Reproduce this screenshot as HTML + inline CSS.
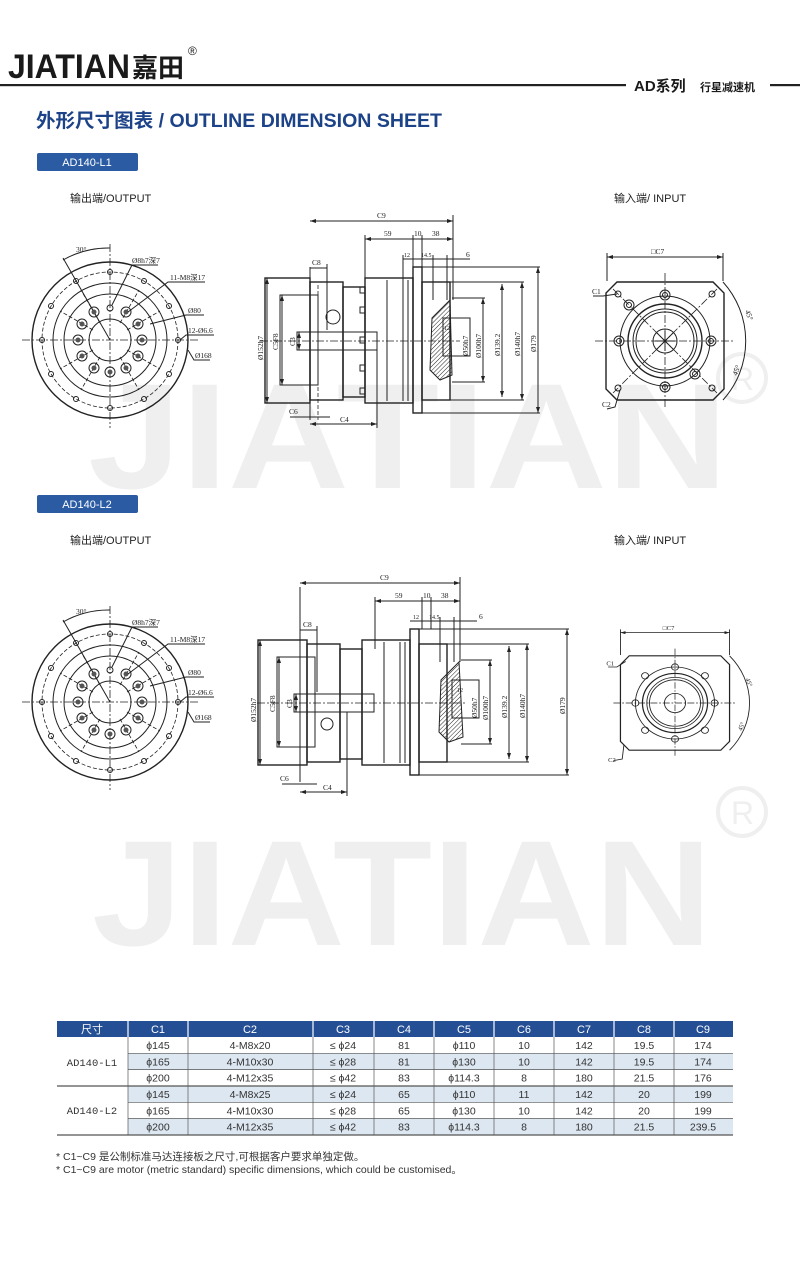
<!DOCTYPE html>
<html><head><meta charset="utf-8"><style>
body{margin:0;background:#fff}
svg{display:block}
.t{font-family:"Liberation Serif",serif;font-size:7.5px;fill:#222}
.l{stroke:#222;stroke-width:1;fill:none}
.th{stroke:#222;stroke-width:1.4;fill:none}
.d{stroke:#222;stroke-width:0.8;fill:none;stroke-dasharray:4 2}
.c{stroke:#222;stroke-width:0.8;fill:none;stroke-dasharray:8 2 2 2}
.s{font-family:"Liberation Sans","Noto Sans CJK SC",sans-serif}
</style></head><body>
<svg width="800" height="1264" viewBox="0 0 800 1264" xmlns="http://www.w3.org/2000/svg">
<defs>
<marker id="a" markerWidth="6" markerHeight="4" refX="6" refY="2" orient="auto-start-reverse"><path d="M0,0L6,2L0,4z" fill="#222"/></marker>
<pattern id="h" width="3" height="3" patternUnits="userSpaceOnUse" patternTransform="rotate(45)"><line x1="0" y1="0" x2="0" y2="3" stroke="#222" stroke-width="1"/></pattern>
</defs>
<g font-family="Liberation Sans,sans-serif" font-weight="bold" fill="#efefef">
<text x="88" y="488" font-size="150" textLength="640" lengthAdjust="spacingAndGlyphs">JIATIAN</text>
<text x="92" y="945" font-size="150" textLength="620" lengthAdjust="spacingAndGlyphs">JIATIAN</text>
</g>
<circle cx="742" cy="378" r="24" fill="none" stroke="#efefef" stroke-width="4"/><text x="731" y="390" font-size="32" fill="#efefef" font-family="Liberation Sans,sans-serif">R</text>
<circle cx="742" cy="812" r="24" fill="none" stroke="#efefef" stroke-width="4"/><text x="731" y="824" font-size="32" fill="#efefef" font-family="Liberation Sans,sans-serif">R</text>

<text x="8" y="78" class="s" font-size="34" font-weight="bold" fill="#1a1a1a" textLength="122" lengthAdjust="spacingAndGlyphs">JIATIAN</text>
<text x="132" y="77" class="s" font-size="26" font-weight="bold" fill="#1a1a1a">嘉田</text>
<text x="188" y="55" class="s" font-size="12" fill="#1a1a1a">®</text>
<rect x="0" y="84" width="626" height="2.2" fill="#222"/>
<rect x="770" y="84" width="30" height="2.2" fill="#222"/>
<text x="634" y="91" class="s" font-size="15" font-weight="bold" fill="#1a1a1a">AD系列</text>
<text x="700" y="91" class="s" font-size="11" font-weight="bold" fill="#1a1a1a">行星减速机</text>
<text x="36" y="127" class="s" font-size="19" font-weight="bold" fill="#1c4288" textLength="406" lengthAdjust="spacingAndGlyphs">外形尺寸图表 / OUTLINE DIMENSION SHEET</text>
<rect x="37" y="153" width="101" height="18" rx="2" fill="#2b5ca3"/>
<text x="87" y="166" class="s" font-size="11" fill="#fff" text-anchor="middle">AD140-L1</text>
<rect x="37" y="495" width="101" height="18" rx="2" fill="#2b5ca3"/>
<text x="87" y="508" class="s" font-size="11" fill="#fff" text-anchor="middle">AD140-L2</text>
<g class="s" font-size="11" fill="#222">
<text x="70" y="202">输出端/OUTPUT</text><text x="614" y="202">输入端/ INPUT</text>
<text x="70" y="544">输出端/OUTPUT</text><text x="614" y="544">输入端/ INPUT</text>
</g>

<g transform="translate(110,340)">
<circle r="78" class="th"/><circle r="68" class="d"/><circle r="57" class="l"/><circle r="46" class="l"/><circle r="21" class="l"/>
<line x1="-88" y1="0" x2="88" y2="0" class="c"/><line x1="0" y1="-96" x2="0" y2="88" class="c"/>
<g class="d"><line x1="-10" y1="-17" x2="-29" y2="-50"/><line x1="10" y1="-17" x2="29" y2="-50"/><line x1="-17" y1="-10" x2="-50" y2="-29"/><line x1="17" y1="-10" x2="50" y2="-29"/><line x1="-17" y1="10" x2="-50" y2="29"/><line x1="17" y1="10" x2="50" y2="29"/><line x1="-10" y1="17" x2="-29" y2="50"/><line x1="10" y1="17" x2="29" y2="50"/></g>
<line x1="0" y1="0" x2="-47" y2="-82" class="l"/>
<path d="M-47,-80 A92,92 0 0 1 0,-92" class="l"/>
<text x="-34" y="-88" class="t">30°</text>
<g class="l" stroke-width="1.3">
<circle cx="0" cy="-32" r="3"/>
<circle cx="16" cy="-28" r="5"/><circle cx="28" cy="-16" r="5"/><circle cx="32" cy="0" r="5"/><circle cx="28" cy="16" r="5"/><circle cx="16" cy="28" r="5"/><circle cx="0" cy="32" r="5"/><circle cx="-16" cy="28" r="5"/><circle cx="-28" cy="16" r="5"/><circle cx="-32" cy="0" r="5"/><circle cx="-28" cy="-16" r="5"/><circle cx="-16" cy="-28" r="5"/>
</g>
<g fill="#555"><circle cx="16" cy="-28" r="2.5"/><circle cx="28" cy="-16" r="2.5"/><circle cx="32" cy="0" r="2.5"/><circle cx="28" cy="16" r="2.5"/><circle cx="16" cy="28" r="2.5"/><circle cx="0" cy="32" r="2.5"/><circle cx="-16" cy="28" r="2.5"/><circle cx="-28" cy="16" r="2.5"/><circle cx="-32" cy="0" r="2.5"/><circle cx="-28" cy="-16" r="2.5"/><circle cx="-16" cy="-28" r="2.5"/></g>
<g class="l"><circle cx="0" cy="-68" r="2.5"/><circle cx="34" cy="-59" r="2.5"/><circle cx="59" cy="-34" r="2.5"/><circle cx="68" cy="0" r="2.5"/><circle cx="59" cy="34" r="2.5"/><circle cx="34" cy="59" r="2.5"/><circle cx="0" cy="68" r="2.5"/><circle cx="-34" cy="59" r="2.5"/><circle cx="-59" cy="34" r="2.5"/><circle cx="-68" cy="0" r="2.5"/><circle cx="-59" cy="-34" r="2.5"/><circle cx="-34" cy="-59" r="2.5"/></g>
<g class="l"><polyline points="2,-35 22,-75 48,-75"/><polyline points="18,-28 58,-58 95,-58"/><polyline points="40,-16 76,-25 94,-25"/><polyline points="70,0 76,-5 104,-5"/><polyline points="78,10 84,20 100,20"/></g>
<text x="22" y="-77" class="t">Ø8h7深7</text><text x="60" y="-60" class="t">11-M8深17</text><text x="78" y="-27" class="t">Ø80</text><text x="78" y="-7" class="t">12-Ø6.6</text><text x="85" y="18" class="t">Ø168</text>
</g>

<g transform="translate(110,702)">
<circle r="78" class="th"/><circle r="68" class="d"/><circle r="57" class="l"/><circle r="46" class="l"/><circle r="21" class="l"/>
<line x1="-88" y1="0" x2="88" y2="0" class="c"/><line x1="0" y1="-96" x2="0" y2="88" class="c"/>
<g class="d"><line x1="-10" y1="-17" x2="-29" y2="-50"/><line x1="10" y1="-17" x2="29" y2="-50"/><line x1="-17" y1="-10" x2="-50" y2="-29"/><line x1="17" y1="-10" x2="50" y2="-29"/><line x1="-17" y1="10" x2="-50" y2="29"/><line x1="17" y1="10" x2="50" y2="29"/><line x1="-10" y1="17" x2="-29" y2="50"/><line x1="10" y1="17" x2="29" y2="50"/></g>
<line x1="0" y1="0" x2="-47" y2="-82" class="l"/>
<path d="M-47,-80 A92,92 0 0 1 0,-92" class="l"/>
<text x="-34" y="-88" class="t">30°</text>
<g class="l" stroke-width="1.3">
<circle cx="0" cy="-32" r="3"/>
<circle cx="16" cy="-28" r="5"/><circle cx="28" cy="-16" r="5"/><circle cx="32" cy="0" r="5"/><circle cx="28" cy="16" r="5"/><circle cx="16" cy="28" r="5"/><circle cx="0" cy="32" r="5"/><circle cx="-16" cy="28" r="5"/><circle cx="-28" cy="16" r="5"/><circle cx="-32" cy="0" r="5"/><circle cx="-28" cy="-16" r="5"/><circle cx="-16" cy="-28" r="5"/>
</g>
<g fill="#555"><circle cx="16" cy="-28" r="2.5"/><circle cx="28" cy="-16" r="2.5"/><circle cx="32" cy="0" r="2.5"/><circle cx="28" cy="16" r="2.5"/><circle cx="16" cy="28" r="2.5"/><circle cx="0" cy="32" r="2.5"/><circle cx="-16" cy="28" r="2.5"/><circle cx="-28" cy="16" r="2.5"/><circle cx="-32" cy="0" r="2.5"/><circle cx="-28" cy="-16" r="2.5"/><circle cx="-16" cy="-28" r="2.5"/></g>
<g class="l"><circle cx="0" cy="-68" r="2.5"/><circle cx="34" cy="-59" r="2.5"/><circle cx="59" cy="-34" r="2.5"/><circle cx="68" cy="0" r="2.5"/><circle cx="59" cy="34" r="2.5"/><circle cx="34" cy="59" r="2.5"/><circle cx="0" cy="68" r="2.5"/><circle cx="-34" cy="59" r="2.5"/><circle cx="-59" cy="34" r="2.5"/><circle cx="-68" cy="0" r="2.5"/><circle cx="-59" cy="-34" r="2.5"/><circle cx="-34" cy="-59" r="2.5"/></g>
<g class="l"><polyline points="2,-35 22,-75 48,-75"/><polyline points="18,-28 58,-58 95,-58"/><polyline points="40,-16 76,-25 94,-25"/><polyline points="70,0 76,-5 104,-5"/><polyline points="78,10 84,20 100,20"/></g>
<text x="22" y="-77" class="t">Ø8h7深7</text><text x="60" y="-60" class="t">11-M8深17</text><text x="78" y="-27" class="t">Ø80</text><text x="78" y="-7" class="t">12-Ø6.6</text><text x="85" y="18" class="t">Ø168</text>
</g>

<g>
<g class="th">
<rect x="265" y="278" width="45" height="125"/>
<rect x="310" y="282" width="33" height="118"/>
<rect x="343" y="287" width="22" height="110"/>
<rect x="365" y="278" width="48" height="125"/>
<rect x="413" y="267" width="9" height="146"/>
<rect x="422" y="282" width="28" height="118"/>
</g>
<g class="l">
<line x1="310" y1="267" x2="310" y2="420"/><line x1="387" y1="280" x2="387" y2="401"/><line x1="403" y1="280" x2="403" y2="401"/><line x1="408" y1="280" x2="408" y2="401"/>
<rect x="280" y="295" width="38" height="90"/><rect x="297" y="332" width="80" height="18"/>
<circle cx="333" cy="317" r="7"/>
<rect x="360" y="287" width="5" height="6"/><rect x="360" y="307" width="5" height="6"/><rect x="360" y="337" width="5" height="6"/><rect x="360" y="365" width="5" height="6"/><rect x="360" y="388" width="5" height="6"/>
</g>
<path d="M450,300 L432,318 L430,370 L440,380 L452,375 L450,300z" fill="url(#h)" stroke="#222" stroke-width="1"/>
<line x1="260" y1="341" x2="460" y2="341" class="c"/>
<line x1="318" y1="285" x2="318" y2="420" class="d"/>
<g class="l">
<line x1="310" y1="221" x2="453" y2="221" marker-start="url(#a)" marker-end="url(#a)"/><line x1="453" y1="215" x2="453" y2="300"/>
<line x1="365" y1="239" x2="453" y2="239" marker-start="url(#a)" marker-end="url(#a)"/><line x1="365" y1="235" x2="365" y2="287"/>
<line x1="413" y1="235" x2="413" y2="267"/><line x1="422" y1="235" x2="422" y2="267"/>
<line x1="403" y1="259" x2="470" y2="259"/><line x1="403" y1="255" x2="403" y2="280"/><line x1="433" y1="255" x2="433" y2="300"/><line x1="447" y1="255" x2="447" y2="300"/>
<line x1="310" y1="268" x2="327" y2="268"/><line x1="327" y1="264" x2="327" y2="330"/>
<line x1="267" y1="278" x2="267" y2="403" marker-start="url(#a)" marker-end="url(#a)"/>
<line x1="282" y1="295" x2="282" y2="385" marker-start="url(#a)" marker-end="url(#a)"/>
<line x1="299" y1="332" x2="299" y2="350" marker-start="url(#a)" marker-end="url(#a)"/>
<line x1="290" y1="417" x2="330" y2="417"/>
<line x1="310" y1="424" x2="377" y2="424" marker-start="url(#a)" marker-end="url(#a)"/><line x1="377" y1="350" x2="377" y2="428"/>
<line x1="422" y1="267" x2="540" y2="267"/><line x1="538" y1="267" x2="538" y2="413" marker-start="url(#a)" marker-end="url(#a)"/><line x1="422" y1="413" x2="540" y2="413"/>
<line x1="450" y1="282" x2="524" y2="282"/><line x1="522" y1="282" x2="522" y2="400" marker-start="url(#a)" marker-end="url(#a)"/><line x1="450" y1="400" x2="524" y2="400"/>
<line x1="502" y1="284" x2="502" y2="397" marker-start="url(#a)" marker-end="url(#a)"/>
<line x1="452" y1="298" x2="485" y2="298"/><line x1="483" y1="298" x2="483" y2="382" marker-start="url(#a)" marker-end="url(#a)"/><line x1="452" y1="382" x2="485" y2="382"/>
<rect x="443" y="318" width="27" height="38"/>
</g>
<g class="t">
<text x="377" y="218">C9</text><text x="384" y="236">59</text><text x="414" y="236">10</text><text x="432" y="236">38</text>
<text x="404" y="257" font-size="6">12</text><text x="421" y="257" font-size="6">14.5</text><text x="466" y="257">6</text>
<text x="312" y="265">C8</text><text x="289" y="414">C6</text><text x="340" y="422">C4</text><text x="444" y="330" font-size="6">12</text>
<text transform="translate(263,360) rotate(-90)">Ø152h7</text><text transform="translate(278,350) rotate(-90)">C5F8</text><text transform="translate(295,346) rotate(-90)">C3</text>
<text transform="translate(468,356) rotate(-90)">Ø50h7</text><text transform="translate(481,358) rotate(-90)">Ø100h7</text><text transform="translate(500,356) rotate(-90)">Ø139.2</text><text transform="translate(520,356) rotate(-90)">Ø140h7</text><text transform="translate(536,352) rotate(-90)">Ø179</text>
</g>
</g>

<g transform="translate(-3,362)">
<g class="th">
<rect x="261" y="278" width="49" height="125"/>
<rect x="310" y="282" width="33" height="118"/>
<rect x="343" y="287" width="22" height="110"/>
<rect x="365" y="278" width="48" height="125"/>
<rect x="413" y="267" width="9" height="146"/>
<rect x="422" y="282" width="28" height="118"/>
</g>
<g class="l">
<line x1="303" y1="225" x2="303" y2="420"/><line x1="387" y1="280" x2="387" y2="401"/><line x1="403" y1="280" x2="403" y2="401"/><line x1="408" y1="280" x2="408" y2="401"/>
<rect x="280" y="295" width="38" height="90"/><rect x="297" y="332" width="80" height="18"/>
<circle cx="330" cy="362" r="6"/>
</g>
<path d="M462,300 L444,318 L442,370 L452,380 L466,375 L462,300z" fill="url(#h)" stroke="#222" stroke-width="1"/>
<line x1="260" y1="341" x2="470" y2="341" class="c"/>
<g class="l">
<line x1="303" y1="221" x2="463" y2="221" marker-start="url(#a)" marker-end="url(#a)"/><line x1="463" y1="215" x2="463" y2="300"/>
<line x1="378" y1="239" x2="463" y2="239" marker-start="url(#a)" marker-end="url(#a)"/><line x1="378" y1="235" x2="378" y2="287"/>
<line x1="425" y1="235" x2="425" y2="267"/><line x1="434" y1="235" x2="434" y2="267"/>
<line x1="413" y1="259" x2="480" y2="259"/><line x1="443" y1="255" x2="443" y2="300"/><line x1="457" y1="255" x2="457" y2="300"/>
<line x1="303" y1="268" x2="320" y2="268"/><line x1="320" y1="264" x2="320" y2="330"/>
<line x1="263" y1="278" x2="263" y2="403" marker-start="url(#a)" marker-end="url(#a)"/>
<line x1="282" y1="295" x2="282" y2="385" marker-start="url(#a)" marker-end="url(#a)"/>
<line x1="299" y1="332" x2="299" y2="350" marker-start="url(#a)" marker-end="url(#a)"/>
<line x1="285" y1="422" x2="320" y2="422"/>
<line x1="303" y1="430" x2="350" y2="430" marker-start="url(#a)" marker-end="url(#a)"/><line x1="350" y1="350" x2="350" y2="434"/>
<line x1="422" y1="267" x2="572" y2="267"/><line x1="570" y1="267" x2="570" y2="413" marker-start="url(#a)" marker-end="url(#a)"/><line x1="422" y1="413" x2="572" y2="413"/>
<line x1="450" y1="282" x2="532" y2="282"/><line x1="530" y1="282" x2="530" y2="400" marker-start="url(#a)" marker-end="url(#a)"/><line x1="450" y1="400" x2="532" y2="400"/>
<line x1="512" y1="284" x2="512" y2="397" marker-start="url(#a)" marker-end="url(#a)"/>
<line x1="464" y1="298" x2="495" y2="298"/><line x1="493" y1="298" x2="493" y2="382" marker-start="url(#a)" marker-end="url(#a)"/><line x1="464" y1="382" x2="495" y2="382"/>
<rect x="455" y="318" width="27" height="38"/>
</g>
<g class="t">
<text x="383" y="218">C9</text><text x="398" y="236">59</text><text x="426" y="236">10</text><text x="444" y="236">38</text>
<text x="416" y="257" font-size="6">12</text><text x="432" y="257" font-size="6">14.5</text><text x="482" y="257">6</text>
<text x="306" y="265">C8</text><text x="283" y="419">C6</text><text x="326" y="428">C4</text><text x="460" y="330" font-size="6">12</text>
<text transform="translate(259,360) rotate(-90)">Ø152h7</text><text transform="translate(278,350) rotate(-90)">C5F8</text><text transform="translate(295,346) rotate(-90)">C3</text>
<text transform="translate(480,356) rotate(-90)">Ø50h7</text><text transform="translate(491,358) rotate(-90)">Ø100h7</text><text transform="translate(510,356) rotate(-90)">Ø139.2</text><text transform="translate(528,356) rotate(-90)">Ø140h7</text><text transform="translate(568,352) rotate(-90)">Ø179</text>
</g>
</g>

<g transform="translate(665,341)">
<path d="M-48,-59 L48,-59 L59,-48 L59,48 L48,59 L-48,59 L-59,48 L-59,-48z" class="th"/>
<circle r="45" class="l"/><circle r="37" class="th"/><circle r="32" class="l"/><circle r="29" class="l"/><circle r="12" class="l"/>
<line x1="-70" y1="0" x2="70" y2="0" class="c"/><line x1="0" y1="-68" x2="0" y2="68" class="c"/>
<line x1="-52" y1="-52" x2="52" y2="52" class="c"/><line x1="52" y1="-52" x2="-52" y2="52" class="c"/>
<g class="l"><line x1="-8" y1="-8" x2="8" y2="8"/><line x1="8" y1="-8" x2="-8" y2="8"/><line x1="-10" y1="0" x2="10" y2="0"/><line x1="0" y1="-10" x2="0" y2="10"/></g>
<g class="l" stroke-width="1.3">
<circle cx="0" cy="-46" r="5"/><circle cx="0" cy="-46" r="2.5"/><circle cx="0" cy="46" r="5"/><circle cx="0" cy="46" r="2.5"/>
<circle cx="-46" cy="0" r="5"/><circle cx="-46" cy="0" r="2.5"/><circle cx="46" cy="0" r="5"/><circle cx="46" cy="0" r="2.5"/>
<circle cx="-36" cy="-36" r="5"/><circle cx="-36" cy="-36" r="2.5"/><circle cx="30" cy="33" r="5"/><circle cx="30" cy="33" r="2.5"/>
<circle cx="-47" cy="-47" r="3"/><circle cx="47" cy="-47" r="3"/><circle cx="-47" cy="47" r="3"/><circle cx="47" cy="47" r="3"/>
</g>
<g class="l">
<line x1="-58" y1="-88" x2="-58" y2="-60"/><line x1="58" y1="-88" x2="58" y2="-60"/><line x1="-58" y1="-84" x2="58" y2="-84" marker-start="url(#a)" marker-end="url(#a)"/>
<path d="M58,-59 A88,88 0 0 1 58,59"/>
<polyline points="-72,-45 -62,-45 -48,-47"/><polyline points="-58,68 -50,66 -45,49"/>
</g>
<text x="-14" y="-87" class="t">□C7</text><text x="-73" y="-47" class="t">C1</text><text x="-63" y="66" class="t">C2</text>
<text transform="translate(80,-30) rotate(70)" class="t">45°</text><text transform="translate(72,35) rotate(-70)" class="t">45°</text>
</g>

<g transform="translate(675,703) scale(0.88,0.8)">
<path d="M-52,-59 L52,-59 L62,-48 L62,48 L52,59 L-52,59 L-62,48 L-62,-48z" class="th"/>
<circle r="45" class="l"/><circle r="37" class="th"/><circle r="32" class="l"/><circle r="29" class="l"/><circle r="12" class="l"/>
<line x1="-70" y1="0" x2="70" y2="0" class="c"/><line x1="0" y1="-68" x2="0" y2="68" class="c"/>
<g class="l" stroke-width="1.3">
<circle cx="-34" cy="-34" r="4"/><circle cx="34" cy="-34" r="4"/><circle cx="-34" cy="34" r="4"/><circle cx="34" cy="34" r="4"/>
<circle cx="-45" cy="0" r="4"/><circle cx="45" cy="0" r="4"/><circle cx="0" cy="-45" r="4"/><circle cx="0" cy="45" r="4"/>
</g>
<g class="l">
<line x1="-62" y1="-92" x2="-62" y2="-60"/><line x1="62" y1="-92" x2="62" y2="-60"/><line x1="-62" y1="-88" x2="62" y2="-88" marker-start="url(#a)" marker-end="url(#a)"/>
<path d="M62,-59 A88,88 0 0 1 62,59"/>
<polyline points="-76,-45 -66,-45 -56,-52"/><polyline points="-70,72 -60,70 -58,52"/>
</g>
<text x="-14" y="-91" class="t">□C7</text><text x="-78" y="-47" class="t">C1</text><text x="-76" y="74" class="t">C2</text>
<text transform="translate(80,-30) rotate(70)" class="t">45°</text><text transform="translate(76,35) rotate(-70)" class="t">45°</text>
</g>

<rect x="57" y="1021" width="676" height="16" fill="#244f95"/>
<g fill="#dde7f1">
<rect x="128" y="1053.3" width="605" height="16.3"/>
<rect x="128" y="1086" width="605" height="16.3"/>
<rect x="128" y="1118.6" width="605" height="16.3"/>
</g>
<g stroke="#fff" stroke-width="1.2">
<line x1="128" y1="1021" x2="128" y2="1037"/><line x1="188" y1="1021" x2="188" y2="1037"/><line x1="313" y1="1021" x2="313" y2="1037"/><line x1="374" y1="1021" x2="374" y2="1037"/><line x1="434" y1="1021" x2="434" y2="1037"/><line x1="494" y1="1021" x2="494" y2="1037"/><line x1="554" y1="1021" x2="554" y2="1037"/><line x1="614" y1="1021" x2="614" y2="1037"/><line x1="674" y1="1021" x2="674" y2="1037"/>
</g>
<g stroke="#555" stroke-width="0.7">
<line x1="128" y1="1037" x2="128" y2="1135"/><line x1="188" y1="1037" x2="188" y2="1135"/><line x1="313" y1="1037" x2="313" y2="1135"/><line x1="374" y1="1037" x2="374" y2="1135"/><line x1="434" y1="1037" x2="434" y2="1135"/><line x1="494" y1="1037" x2="494" y2="1135"/><line x1="554" y1="1037" x2="554" y2="1135"/><line x1="614" y1="1037" x2="614" y2="1135"/><line x1="674" y1="1037" x2="674" y2="1135"/>
<line x1="128" y1="1053.3" x2="733" y2="1053.3"/><line x1="128" y1="1069.6" x2="733" y2="1069.6"/><line x1="128" y1="1102.3" x2="733" y2="1102.3"/><line x1="128" y1="1118.6" x2="733" y2="1118.6"/>
</g>
<line x1="57" y1="1086" x2="733" y2="1086" stroke="#555" stroke-width="1.2"/>
<line x1="57" y1="1135" x2="733" y2="1135" stroke="#555" stroke-width="1.2"/>
<g class="s" font-size="11" fill="#fff" text-anchor="middle">
<text x="92" y="1033">尺寸</text><text x="158" y="1033">C1</text><text x="250" y="1033">C2</text><text x="343" y="1033">C3</text><text x="404" y="1033">C4</text><text x="464" y="1033">C5</text><text x="524" y="1033">C6</text><text x="584" y="1033">C7</text><text x="644" y="1033">C8</text><text x="703" y="1033">C9</text>
</g>
<g class="s" font-size="10.5" fill="#333" text-anchor="middle">
<text x="92" y="1066" font-family="Liberation Mono,monospace">AD140-L1</text><text x="92" y="1114" font-family="Liberation Mono,monospace">AD140-L2</text>
<text x="158" y="1049">ϕ145</text><text x="250" y="1049">4-M8x20</text><text x="343" y="1049">≤ ϕ24</text><text x="404" y="1049">81</text><text x="464" y="1049">ϕ110</text><text x="524" y="1049">10</text><text x="584" y="1049">142</text><text x="644" y="1049">19.5</text><text x="703" y="1049">174</text>
<text x="158" y="1065.3">ϕ165</text><text x="250" y="1065.3">4-M10x30</text><text x="343" y="1065.3">≤ ϕ28</text><text x="404" y="1065.3">81</text><text x="464" y="1065.3">ϕ130</text><text x="524" y="1065.3">10</text><text x="584" y="1065.3">142</text><text x="644" y="1065.3">19.5</text><text x="703" y="1065.3">174</text>
<text x="158" y="1081.6">ϕ200</text><text x="250" y="1081.6">4-M12x35</text><text x="343" y="1081.6">≤ ϕ42</text><text x="404" y="1081.6">83</text><text x="464" y="1081.6">ϕ114.3</text><text x="524" y="1081.6">8</text><text x="584" y="1081.6">180</text><text x="644" y="1081.6">21.5</text><text x="703" y="1081.6">176</text>
<text x="158" y="1098">ϕ145</text><text x="250" y="1098">4-M8x25</text><text x="343" y="1098">≤ ϕ24</text><text x="404" y="1098">65</text><text x="464" y="1098">ϕ110</text><text x="524" y="1098">11</text><text x="584" y="1098">142</text><text x="644" y="1098">20</text><text x="703" y="1098">199</text>
<text x="158" y="1114.3">ϕ165</text><text x="250" y="1114.3">4-M10x30</text><text x="343" y="1114.3">≤ ϕ28</text><text x="404" y="1114.3">65</text><text x="464" y="1114.3">ϕ130</text><text x="524" y="1114.3">10</text><text x="584" y="1114.3">142</text><text x="644" y="1114.3">20</text><text x="703" y="1114.3">199</text>
<text x="158" y="1130.6">ϕ200</text><text x="250" y="1130.6">4-M12x35</text><text x="343" y="1130.6">≤ ϕ42</text><text x="404" y="1130.6">83</text><text x="464" y="1130.6">ϕ114.3</text><text x="524" y="1130.6">8</text><text x="584" y="1130.6">180</text><text x="644" y="1130.6">21.5</text><text x="703" y="1130.6">239.5</text>
</g>
<g class="s" font-size="10.5" fill="#333">
<text x="56" y="1160">* C1~C9  是公制标准马达连接板之尺寸,可根据客户要求单独定做。</text>
<text x="56" y="1173">* C1~C9  are motor (metric standard) specific dimensions, which could be customised。</text>
</g>
</svg>
</body></html>
